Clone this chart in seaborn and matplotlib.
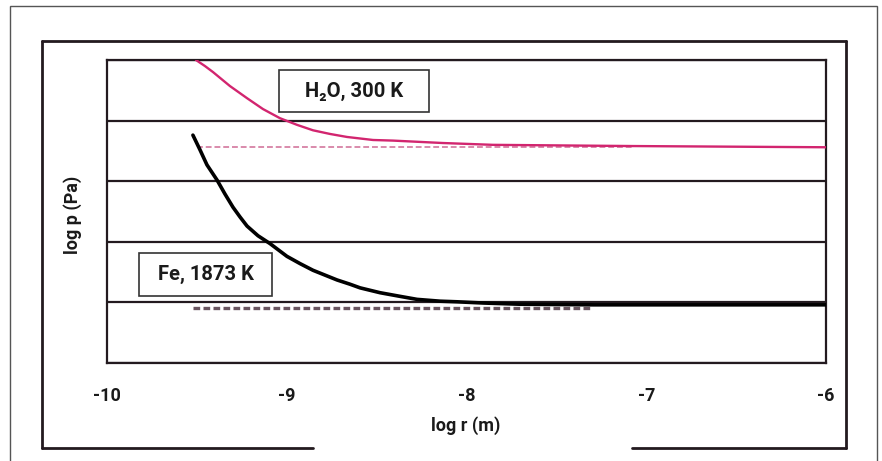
import numpy as np
import pandas as pd
import matplotlib
matplotlib.use("Agg")
import matplotlib.pyplot as plt
import seaborn as sns
from matplotlib.lines import Line2D
from matplotlib.patches import Rectangle

# Werte (log r in m, log p in willkuerlichen Einheiten)
h2o_log_r = [-9.505, -9.455, -9.410, -9.316, -9.221, -9.132, -9.038, -8.943, -8.854,
             -8.760, -8.665, -8.520, -8.409, -8.131, -7.853, -7.074, -6.000]
h2o_log_p = [5.00, 4.90, 4.80, 4.57, 4.37, 4.19, 4.04, 3.93, 3.84,
             3.78, 3.73, 3.68, 3.67, 3.63, 3.60, 3.58, 3.56]
fe_log_r = [-9.522, -9.483, -9.444, -9.388, -9.344, -9.299, -9.260, -9.221, -9.160,
            -9.093, -8.999, -8.926, -8.854, -8.787, -8.720, -8.648, -8.592, -8.481,
            -8.370, -8.275, -8.147, -8.053, -7.908, -7.702, -7.296, -6.000]
fe_log_p = [3.76, 3.52, 3.27, 3.02, 2.79, 2.57, 2.41, 2.26, 2.10,
            1.97, 1.76, 1.64, 1.53, 1.45, 1.37, 1.30, 1.24, 1.16,
            1.10, 1.05, 1.02, 1.01, 0.99, 0.97, 0.96, 0.96]

# flache Grenzwerte (gestrichelt)
h2o_flat_r = [-9.50, -7.07]
h2o_flat_p = [3.56, 3.56]
fe_flat_r = [-9.52, -7.30]
fe_flat_p = [0.90, 0.90]

x_ticks = [-10, -9, -8, -7, -6]
x_tick_labels = ["-10", "-9", "-8", "-7", "-6"]
y_grid = [0, 1, 2, 3, 4, 5]

label_h2o = "H\u2082O, 300 K"
label_fe = "Fe, 1873 K"

sns.set_style("white")
plt.rcParams["font.family"] = ["Roboto", "DejaVu Sans"]

W, H = 882, 461
fig = plt.figure(figsize=(W / 100, H / 100), dpi=100)

def fx(px):
    return px / W

def fy(py):
    return 1 - py / H

ax = fig.add_axes([fx(107), fy(363), fx(826) - fx(107), fy(60) - fy(363)])

dark = "#231a1f"
txt_col = "#1a1a1a"
pink = "#d2256f"

df_h2o = pd.DataFrame({"log r": h2o_log_r, "log p": h2o_log_p})
df_fe = pd.DataFrame({"log r": fe_log_r, "log p": fe_log_p})

# Gitterlinien
for yv in y_grid:
    ax.axhline(yv, color=dark, lw=1.6, zorder=1)

ax.plot(h2o_flat_r, h2o_flat_p, color="#d98aab", lw=1.4, ls=(0, (3, 1.5)), zorder=2)
ax.plot(fe_flat_r, fe_flat_p, color="#6a5560", lw=2.4, ls=(0, (2, 1)), zorder=2)

sns.lineplot(data=df_h2o, x="log r", y="log p", color=pink, lw=1.7, ax=ax, zorder=3)
sns.lineplot(data=df_fe, x="log r", y="log p", color="black", lw=2.6, ax=ax, zorder=3)

ax.set_xlim(-10, -6)
ax.set_ylim(0, 5)
ax.set_xticks(x_ticks)
ax.set_xticklabels(x_tick_labels, fontsize=13, fontweight="bold", color=txt_col)
ax.set_yticks([])
ax.tick_params(axis="x", direction="out", length=7, width=1.6, color=dark, pad=10)
for sp in ax.spines.values():
    sp.set_visible(True)
    sp.set_color(dark)
    sp.set_linewidth(1.6)
ax.set_xlabel("")
ax.set_ylabel("")

fig.text(fx(466), fy(426), "log r (m)", ha="center", va="center", fontsize=13,
         fontweight="bold", color=txt_col)
fig.text(fx(73), fy(215), "log p (Pa)", ha="center", va="center", rotation=90,
         fontsize=13, fontweight="bold", color=txt_col)

# Beschriftungskaesten
for (x0, y0, x1, y1), txt in [((279, 70, 429, 112), label_h2o), ((139, 253, 272, 296), label_fe)]:
    fig.patches.append(Rectangle((fx(x0), fy(y1)), fx(x1) - fx(x0), fy(y0) - fy(y1),
                                 transform=fig.transFigure, facecolor="white",
                                 edgecolor="#333333", lw=1.2, zorder=5))
    fig.text(fx((x0 + x1) / 2), fy((y0 + y1) / 2), txt, ha="center", va="center",
             fontsize=14.5, fontweight="bold", color=txt_col, zorder=6)

# Rahmen
fig.patches.append(Rectangle((fx(10), fy(470)), fx(877) - fx(10), fy(6) - fy(470),
                             transform=fig.transFigure, fill=False, edgecolor="#555555", lw=1.0))
frame = [((42, 41), (846, 41)), ((42, 41), (42, 448)), ((846, 41), (846, 448)),
         ((42, 448), (313, 448)), ((632, 448), (846, 448))]
for (a, b) in frame:
    fig.lines.append(Line2D([fx(a[0]), fx(b[0])], [fy(a[1]), fy(b[1])],
                            transform=fig.transFigure, color=dark, lw=2.0))

fig.savefig("out.png", dpi=100)
